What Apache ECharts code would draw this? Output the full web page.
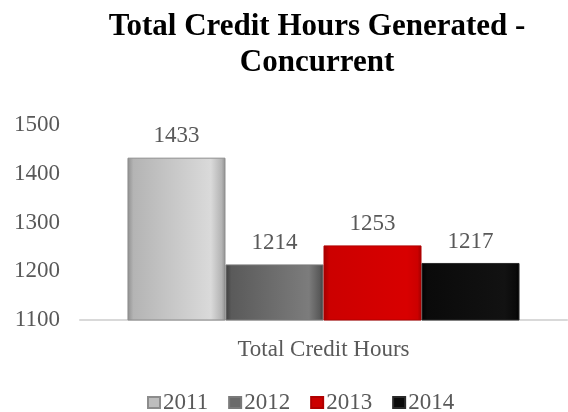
<!DOCTYPE html>
<html>
<head>
<meta charset="utf-8">
<style>
  html, body { margin: 0; padding: 0; background: #ffffff; }
  #chart { width: 568px; height: 412px; }
</style>
<script src="https://cdn.jsdelivr.net/npm/echarts@6/dist/echarts.min.js"></script>
</head>
<body>
<div id="chart"></div>
<script>
// Concurrent enrollment credit hours by year
const categories = ['Total Credit Hours'];
const years = ['2011', '2012', '2013', '2014'];
const values2011 = [1433];
const values2012 = [1214];
const values2013 = [1253];
const values2014 = [1217];
const yTicks = [1100, 1200, 1300, 1400, 1500];

const serif = "'Liberation Serif', 'Times New Roman', 'DejaVu Serif', serif";
const textColor = '#595959';

// Beveled look: horizontal shading plus a lighter rim
function bevel(edge, dark, mid, light) {
  return {
    color: {
      type: 'linear', x: 0, y: 0, x2: 1, y2: 0,
      colorStops: [
        { offset: 0, color: dark },
        { offset: 0.06, color: mid },
        { offset: 0.85, color: light },
        { offset: 0.96, color: mid },
        { offset: 1, color: dark }
      ]
    },
    borderColor: edge,
    borderWidth: 1
  };
}

const styles = [
  bevel('#8c8c8c', '#8f8f8f', '#b4b4b4', '#dadada'),
  bevel('#7a7a7a', '#3f3f3f', '#5a5a5a', '#7c7c7c'),
  bevel('#b00000', '#a00000', '#cc0000', '#d80000'),
  bevel('#2a2a2a', '#000000', '#0a0a0a', '#121212')
];
const legendColors = ['#bdbdbd', '#6a6a6a', '#cc0000', '#0a0a0a'];
const seriesValues = [values2011, values2012, values2013, values2014];

const chart = echarts.init(document.getElementById('chart'), null, { renderer: 'canvas' });

chart.setOption({
  animation: false,
  backgroundColor: '#ffffff',
  title: {
    text: 'Total Credit Hours Generated -\nConcurrent',
    left: 312,
    top: 4,
    textAlign: 'center',
    textStyle: {
      fontFamily: serif,
      fontWeight: 'bold',
      fontSize: 31,
      lineHeight: 36,
      color: '#000000'
    }
  },
  legend: {
    data: years.map((y, i) => ({ name: y, itemStyle: { color: legendColors[i] } })),
    left: 142,
    top: 386,
    icon: 'rect',
    itemWidth: 12,
    itemHeight: 11,
    itemGap: 20,
    textStyle: { fontFamily: serif, fontSize: 23, color: textColor, padding: [0, 0, 0, -2] }
  },
  grid: { left: 80, right: 1, top: 125, bottom: 92, containLabel: false },
  xAxis: {
    type: 'category',
    data: categories,
    axisLine: { show: true, lineStyle: { color: '#d9d9d9', width: 2 } },
    axisTick: { show: false },
    axisLabel: { fontFamily: serif, fontSize: 23, color: textColor, margin: 18 }
  },
  yAxis: {
    type: 'value',
    min: yTicks[0],
    max: yTicks[yTicks.length - 1],
    interval: 100,
    axisLine: { show: false },
    axisTick: { show: false },
    splitLine: { show: false },
    axisLabel: {
      fontFamily: serif, fontSize: 23, color: textColor, margin: 20,
      formatter: v => String(v)
    }
  },
  series: years.map((y, i) => ({
    name: y,
    type: 'bar',
    data: seriesValues[i],
    barGap: 0,
    barCategoryGap: '19.5%',
    itemStyle: styles[i],
    label: {
      show: true,
      position: 'top',
      distance: 10,
      fontFamily: serif,
      fontSize: 23,
      color: textColor
    }
  }))
});
</script>
</body>
</html>
